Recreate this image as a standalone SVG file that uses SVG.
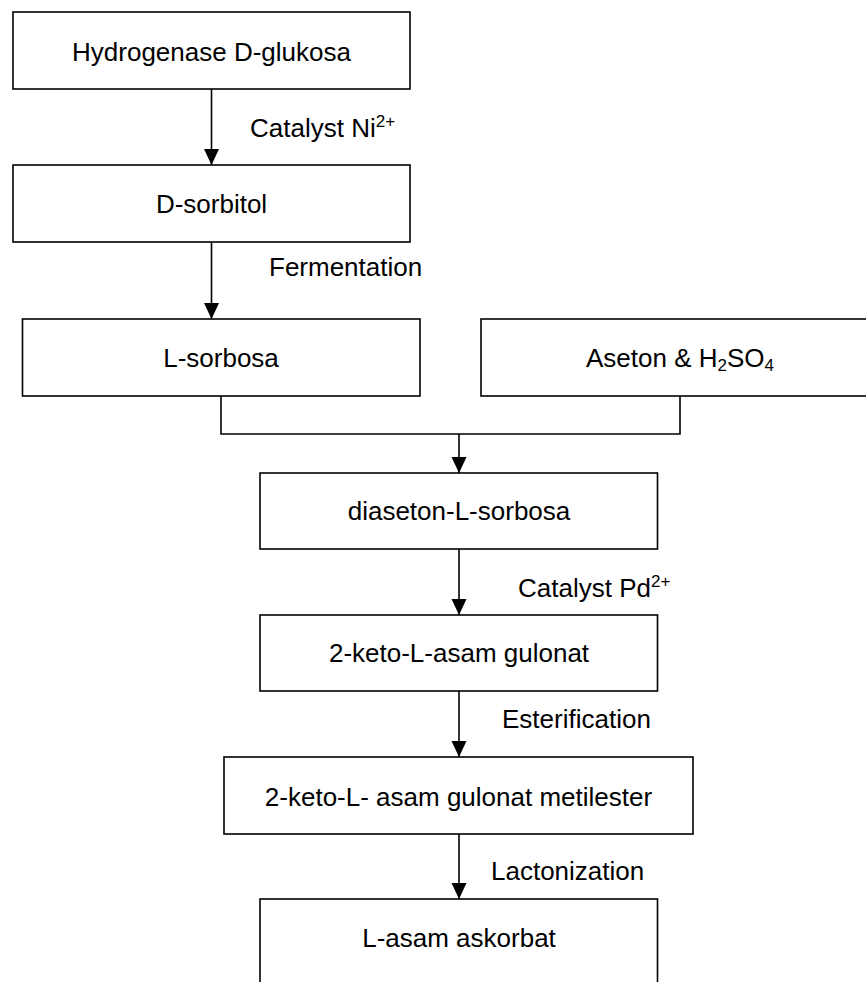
<svg xmlns="http://www.w3.org/2000/svg" width="866" height="982" viewBox="0 0 866 982">
<style>
.box{fill:#fff;stroke:#000;stroke-width:1.6}
.t{font-family:"Liberation Sans",Arial,sans-serif;font-size:26px;fill:#000}
.c{text-anchor:middle}
.sm{font-size:17px}
.ln{fill:none;stroke:#000;stroke-width:1.6}
</style>
<defs>
<marker id="ah" markerUnits="userSpaceOnUse" markerWidth="16" markerHeight="16" refX="16" refY="7.5" orient="auto">
<path d="M0,0 L16,7.5 L0,15 z" fill="#000"/>
</marker>
</defs>
<rect width="866" height="982" fill="#fff"/>
<g id="connectors">
<line class="ln" x1="211.5" y1="89" x2="211.5" y2="165" marker-end="url(#ah)"/>
<line class="ln" x1="211.5" y1="242" x2="211.5" y2="319" marker-end="url(#ah)"/>
<polyline class="ln" points="221,396 221,434 680,434 680,396"/>
<line class="ln" x1="459" y1="434" x2="459" y2="473" marker-end="url(#ah)"/>
<line class="ln" x1="459" y1="549" x2="459" y2="615" marker-end="url(#ah)"/>
<line class="ln" x1="459" y1="691" x2="459" y2="757" marker-end="url(#ah)"/>
<line class="ln" x1="459" y1="834" x2="459" y2="899" marker-end="url(#ah)"/>
<text class="t" x="250" y="137">Catalyst Ni<tspan class="sm" dy="-10">2+</tspan></text>
<text class="t" x="269" y="276">Fermentation</text>
<text class="t" x="518" y="597">Catalyst Pd<tspan class="sm" dy="-10">2+</tspan></text>
<text class="t" x="502" y="728">Esterification</text>
<text class="t" x="491" y="880">Lactonization</text>
</g>
<g id="n1"><rect class="box" x="13" y="12" width="397" height="77"/><text class="t c" x="211.5" y="61">Hydrogenase D-glukosa</text></g>
<g id="n2"><rect class="box" x="13" y="165" width="397" height="77"/><text class="t c" x="211.5" y="213">D-sorbitol</text></g>
<g id="n3"><rect class="box" x="22.5" y="319" width="397.5" height="77"/><text class="t c" x="221" y="367">L-sorbosa</text></g>
<g id="n4"><rect class="box" x="481" y="319" width="398" height="77"/><text class="t c" x="680" y="367">Aseton &amp; H<tspan class="sm" dy="4">2</tspan><tspan dy="-4">SO</tspan><tspan class="sm" dy="4">4</tspan></text></g>
<g id="n5"><rect class="box" x="260" y="473" width="397.5" height="76"/><text class="t c" x="459" y="520">diaseton-L-sorbosa</text></g>
<g id="n6"><rect class="box" x="260" y="615" width="397.5" height="76"/><text class="t c" x="459" y="662">2-keto-L-asam gulonat</text></g>
<g id="n7"><rect class="box" x="224" y="757" width="469" height="77"/><text class="t c" x="458.5" y="806">2-keto-L- asam gulonat metilester</text></g>
<g id="n8"><rect class="box" x="260" y="899" width="397.5" height="120"/><text class="t c" x="459" y="947">L-asam askorbat</text></g>
</svg>
